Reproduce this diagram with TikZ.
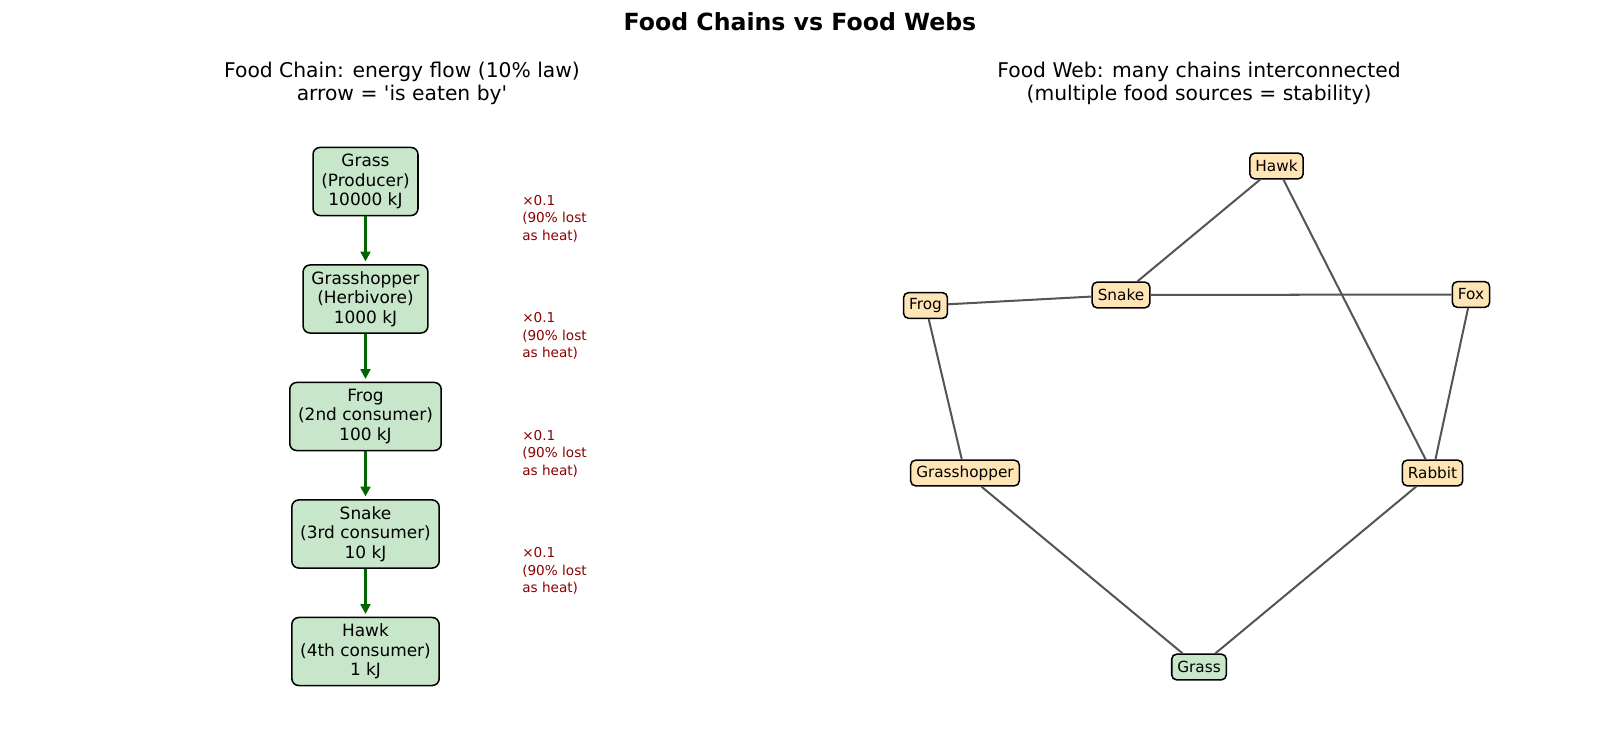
\documentclass[tikz,border=0pt]{standalone}
\usepackage{fontspec}
\setmainfont{DejaVu Sans}
\usetikzlibrary{arrows.meta}
\definecolor{chaingreen}{HTML}{C8E6C9}
\definecolor{webtan}{HTML}{FFE4B5}
\definecolor{arrowgreen}{RGB}{0,100,0}
\definecolor{heatred}{RGB}{139,0,0}
\definecolor{edgegray}{HTML}{555555}
\tikzset{
  chainbox/.style={draw=black, line width=1.1pt, fill=chaingreen, rounded corners=5pt,
    align=center, minimum height=49pt, inner xsep=6pt, inner ysep=2pt,
    font=\fontsize{12.2}{14}\selectfont},
  webbox/.style={draw=black, line width=1.1pt, rounded corners=3.5pt,
    minimum height=18.5pt, inner xsep=4pt, inner ysep=1pt,
    font=\fontsize{11}{13}\selectfont},
  chainarrow/.style={draw=arrowgreen, line width=2pt, -{Triangle[length=7pt,width=7pt]}, shorten >=2pt},
  webedge/.style={draw=edgegray, line width=1.45pt},
  heatnote/.style={text=heatred, align=left, anchor=west, inner sep=0pt,
    font=\fontsize{9.8}{12.6}\selectfont},
  subtitle/.style={align=center, inner sep=0pt, font=\fontsize{14.6}{16.9}\selectfont},
}
\begin{document}
\begin{tikzpicture}[x=0.72pt, y=-0.72pt]
\useasboundingbox (0,0) rectangle (1600,735);
% title
\node[font=\fontsize{17}{20}\selectfont\bfseries, inner sep=0pt] (title) at (800,21.5) {Food Chains vs Food Webs};
\node[subtitle] (lsub) at (402,83.25) {Food Chain: energy flow (10\% law)\\arrow = \textquotesingle is eaten by\textquotesingle};
\node[subtitle] (rsub) at (1199,83.25) {Food Web: many chains interconnected\\(multiple food sources = stability)};
% food chain
\node[chainbox] (c1) at (365.5,181.5) {Grass\\(Producer)\\10000 kJ};
\node[chainbox] (c2) at (365.5,299) {Grasshopper\\(Herbivore)\\1000 kJ};
\node[chainbox] (c3) at (365.5,416.5) {Frog\\(2nd consumer)\\100 kJ};
\node[chainbox] (c4) at (365.5,534) {Snake\\(3rd consumer)\\10 kJ};
\node[chainbox] (c5) at (365.5,651.5) {Hawk\\(4th consumer)\\1 kJ};
\draw[chainarrow] (c1) -- (c2);
\draw[chainarrow] (c2) -- (c3);
\draw[chainarrow] (c3) -- (c4);
\draw[chainarrow] (c4) -- (c5);
\node[heatnote] (h1) at (522,218.5) {×0.1\\(90\% lost\\as heat)};
\node[heatnote] (h2) at (522,336) {×0.1\\(90\% lost\\as heat)};
\node[heatnote] (h3) at (522,453.5) {×0.1\\(90\% lost\\as heat)};
\node[heatnote] (h4) at (522,571) {×0.1\\(90\% lost\\as heat)};
% food web
\node[webbox, fill=webtan] (hawk) at (1276.5,166) {Hawk};
\node[webbox, fill=webtan] (snake) at (1121,295) {Snake};
\node[webbox, fill=webtan] (frog) at (925.5,305.5) {Frog};
\node[webbox, fill=webtan] (fox) at (1471,294.5) {Fox};
\node[webbox, fill=webtan] (ghop) at (965,473) {Grasshopper};
\node[webbox, fill=webtan] (rabbit) at (1432.5,473) {Rabbit};
\node[webbox, fill=chaingreen] (grass) at (1199,667) {Grass};
\draw[webedge] (hawk) -- (snake);
\draw[webedge] (hawk) -- (rabbit);
\draw[webedge] (snake) -- (frog);
\draw[webedge] (snake) -- (fox);
\draw[webedge] (frog) -- (ghop);
\draw[webedge] (fox) -- (rabbit);
\draw[webedge] (ghop) -- (grass);
\draw[webedge] (rabbit) -- (grass);
\end{tikzpicture}
\end{document}
